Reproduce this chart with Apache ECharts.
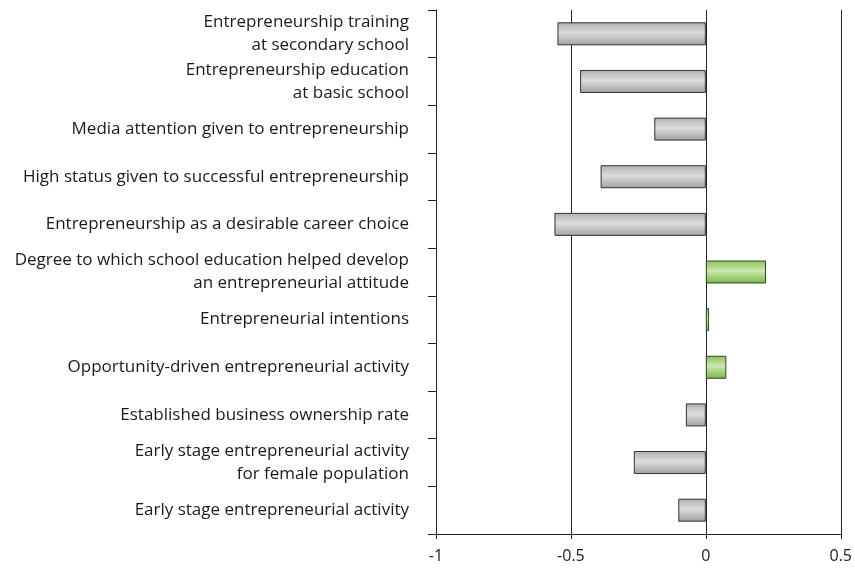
<!DOCTYPE html>
<html>
<head>
<meta charset="utf-8">
<script src="https://cdn.jsdelivr.net/npm/echarts@6/dist/echarts.min.js"></script>
<style>
  html, body { margin: 0; padding: 0; background: #fff; }
  #chart { width: 855px; height: 571px; }
</style>
</head>
<body>
<div id="chart"></div>
<script>
const categories = [
  'Entrepreneurship training\nat secondary school',
  'Entrepreneurship education\nat basic school',
  'Media attention given to entrepreneurship',
  'High status given to successful entrepreneurship',
  'Entrepreneurship as a desirable career choice',
  'Degree to which school education helped develop\nan entrepreneurial attitude',
  'Entrepreneurial intentions',
  'Opportunity-driven entrepreneurial activity',
  'Established business ownership rate',
  'Early stage entrepreneurial activity\nfor female population',
  'Early stage entrepreneurial activity'
]
const values = [-0.55, -0.466, -0.191, -0.39, -0.561, 0.223, 0.012, 0.076, -0.074, -0.267, -0.102]

const grayFill = new echarts.graphic.LinearGradient(0, 0, 0, 1, [
  { offset: 0, color: '#b0b0b2' },
  { offset: 0.45, color: '#dcdcdd' },
  { offset: 1, color: '#a2a2a4' }
])
const greenFill = new echarts.graphic.LinearGradient(0, 0, 0, 1, [
  { offset: 0, color: '#86c256' },
  { offset: 0.45, color: '#cde8b0' },
  { offset: 1, color: '#78b548' }
])

const chart = echarts.init(document.getElementById('chart'))
chart.setOption({
  animation: false,
  grid: { left: 436, right: 13, top: 10, bottom: 37 },
  xAxis: {
    type: 'value',
    min: -1,
    max: 0.5,
    interval: 0.5,
    axisLine: { show: true, lineStyle: { color: '#222', width: 1 } },
    axisTick: { show: true, length: 5, lineStyle: { color: '#222' } },
    splitLine: { show: true, lineStyle: { color: '#222', width: 1 } },
    axisLabel: {
      color: '#1a1a1a',
      fontSize: 16,
      fontFamily: 'Open Sans',
      margin: 14,
      formatter: function (v) { return String(v) }
    }
  },
  yAxis: {
    type: 'category',
    inverse: true,
    data: categories,
    axisLine: { show: true, onZero: false, lineStyle: { color: '#222', width: 1 } },
    axisTick: { show: true, length: 8, lineStyle: { color: '#222' } },
    axisLabel: {
      color: '#1a1a1a',
      fontSize: 17,
      fontFamily: 'Open Sans',
      margin: 27,
      lineHeight: 23,
      align: 'right'
    }
  },
  series: [{
    type: 'bar',
    barWidth: 23,
    data: values.map(function (v) {
      return {
        value: v,
        itemStyle: {
          color: v >= 0 ? greenFill : grayFill,
          borderColor: v >= 0 ? '#2f4a1e' : '#333',
          borderWidth: 1
        }
      }
    })
  }]
})
</script>
</body>
</html>
